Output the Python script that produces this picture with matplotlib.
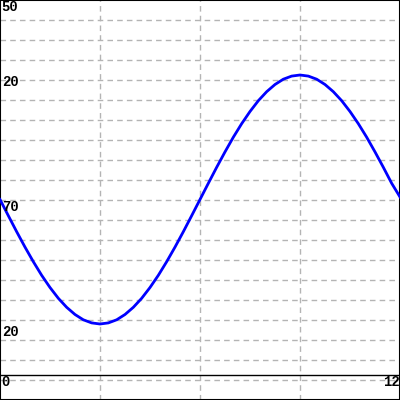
import matplotlib
matplotlib.use("Agg")
import matplotlib.pyplot as plt

# curve samples, x every 0.25 units, y (pixel-like units, 0 = bottom edge)
x_values = [i * 0.25 for i in range(49)]
y_values = [200.5, 184.3, 168.3, 152.9, 138.3, 124.7, 112.5, 101.7, 92.7, 85.5, 80.2, 77.1,
            76.0, 77.1, 80.2, 85.5, 92.7, 101.7, 112.5, 124.7, 138.3, 152.9, 168.3, 184.3,
            200.5, 216.7, 232.7, 248.1, 262.8, 276.3, 288.5, 299.3, 308.3, 315.5, 320.8, 323.9,
            325.0, 323.9, 320.8, 315.5, 308.3, 299.3, 288.5, 276.3, 262.8, 248.1, 232.7, 216.7, 203.0]

y_tick_labels = ["50", "20", "70", "20"]
y_tick_values = [393, 318, 193, 68]
x_tick_labels = ["0", "12"]
x_tick_values = [0, 12]
x_label_level = 18
x_grid = [3, 6, 9]
y_grid = list(range(20, 400, 20))
x_axis_level = 25

fig = plt.figure(figsize=(4, 4), dpi=100)
ax = fig.add_axes([0, 0, 1, 1])
ax.set_xlim(0, 12)
ax.set_ylim(0, 400)
ax.set_xticks([])
ax.set_yticks([])
for s in ax.spines.values():
    s.set_color("black")
    s.set_linewidth(1.5)

grid_style = dict(color="#b4b4b4", linewidth=1.0, linestyle=(0, (4, 3)), zorder=1)
for gy in y_grid:
    ax.axhline(gy, **grid_style)
for gx in x_grid:
    ax.axvline(gx, **grid_style)

ax.axhline(x_axis_level, color="black", linewidth=1.0, zorder=2)

ax.plot(x_values, y_values, color="#0000ff", linewidth=2.0, zorder=3)

font = dict(family=["Liberation Mono", "DejaVu Sans Mono"], fontweight="bold",
            fontsize=10, color="black", zorder=4)
for lab, yv in zip(y_tick_labels, y_tick_values):
    ax.text(0.05, yv, lab, ha="left", va="center", **font)
ax.text(x_tick_values[0] + 0.05, x_label_level, x_tick_labels[0], ha="left", va="center", **font)
ax.text(x_tick_values[1] - 0.02, x_label_level, x_tick_labels[1], ha="right", va="center", **font)

fig.savefig("out.png", dpi=100)
